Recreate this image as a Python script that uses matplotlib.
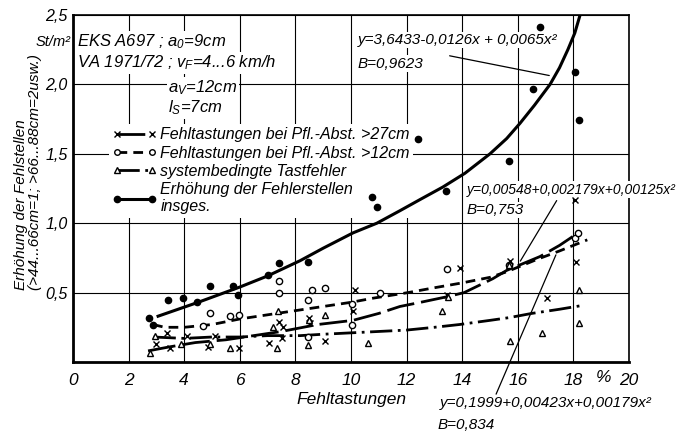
import numpy as np
import matplotlib
matplotlib.use('Agg')
import matplotlib.pyplot as plt
from matplotlib.lines import Line2D

plt.rcParams['font.family'] = ['Liberation Sans', 'DejaVu Sans']
plt.rcParams['font.style'] = 'italic'
plt.rcParams['mathtext.fontset'] = 'custom'
plt.rcParams['mathtext.it'] = 'Liberation Sans:italic'
plt.rcParams['mathtext.rm'] = 'Liberation Sans:italic'

# Erhoehung der Fehlerstellen insges. (gefuellte Punkte)
x_ges = [2.73, 2.88, 3.42, 3.95, 4.45, 4.93, 5.76, 5.93, 7.0, 7.42, 8.46,
         10.76, 10.94, 12.41, 13.42, 15.68, 16.55, 16.8, 18.06, 18.2]
y_ges = [0.32, 0.27, 0.45, 0.46, 0.43, 0.55, 0.55, 0.48, 0.63, 0.71, 0.72,
         1.19, 1.12, 1.61, 1.23, 1.45, 1.97, 2.41, 2.09, 1.74]

# Fehltastungen bei Pfl.-Abst. > 12cm (offene Kreise)
x_12 = [4.68, 4.93, 5.65, 5.97, 7.41, 7.41, 8.45, 8.6, 9.06, 8.45, 10.03,
        10.03, 11.04, 13.45, 15.7, 18.06, 18.17]
y_12 = [0.26, 0.35, 0.33, 0.34, 0.58, 0.50, 0.45, 0.52, 0.53, 0.18, 0.42,
        0.27, 0.50, 0.67, 0.70, 0.89, 0.93]

# Fehltastungen bei Pfl.-Abst. > 27cm (Kreuze)
x_27 = [2.98, 3.38, 3.5, 4.1, 4.86, 5.1, 5.97, 7.05, 7.41, 7.5, 7.55, 8.5,
        8.53, 9.06, 10.07, 10.14, 13.45, 13.92, 15.72, 17.05, 18.06, 18.1]
y_27 = [0.13, 0.21, 0.10, 0.19, 0.11, 0.19, 0.10, 0.14, 0.29, 0.17, 0.25, 0.32,
        0.28, 0.15, 0.37, 0.52, 0.48, 0.68, 0.73, 0.46, 1.17, 0.72]

# systembedingte Tastfehler (Dreiecke)
x_sys = [2.77, 2.95, 3.9, 4.93, 5.65, 7.2, 7.34, 7.37, 8.45, 8.5, 9.06, 10.6,
         13.27, 13.5, 15.68, 15.72, 16.87, 18.2, 18.2]
y_sys = [0.065, 0.19, 0.13, 0.13, 0.10, 0.25, 0.10, 0.37, 0.12, 0.30, 0.34, 0.14,
         0.37, 0.47, 0.70, 0.15, 0.21, 0.52, 0.28]

# Ausgleichskurven
fx_ges = [3.06, 4.5, 6.0, 7.0, 8.17, 9.0, 10.07, 10.93, 11.76, 12.48, 13.3, 14.1,
          15.0, 15.6, 16.08, 16.6, 17.16, 17.5, 17.8, 18.05, 18.24]
fy_ges = [0.33, 0.43, 0.54, 0.62, 0.73, 0.82, 0.93, 1.00, 1.09, 1.17, 1.26, 1.36,
          1.50, 1.61, 1.72, 1.85, 2.00, 2.12, 2.25, 2.37, 2.50]
fx_12 = [2.88, 3.3, 4.0, 5.0, 6.0, 7.0, 8.0, 9.0, 10.0, 10.8, 12.05, 13.0, 14.0,
         15.0, 15.6, 16.7, 17.5, 18.5]
fy_12 = [0.27, 0.25, 0.25, 0.27, 0.31, 0.34, 0.37, 0.40, 0.43, 0.46, 0.50, 0.535, 0.57,
         0.61, 0.65, 0.74, 0.80, 0.88]
fx_27 = [2.7, 3.5, 4.4, 5.5, 6.5, 7.5, 8.8, 10.07, 11.0, 11.76, 12.5, 13.45, 14.07,
         15.1, 15.6, 16.8, 17.5, 18.17]
fy_27 = [0.08, 0.11, 0.14, 0.16, 0.19, 0.22, 0.27, 0.30, 0.35, 0.40, 0.43, 0.47, 0.50,
         0.60, 0.66, 0.76, 0.84, 0.93]
fx_sys = [2.9, 4.0, 5.0, 6.0, 7.0, 8.17, 9.0, 10.0, 11.0, 12.0, 13.0, 13.9, 15.0,
          15.7, 16.5, 17.5, 18.4]
fy_sys = [0.18, 0.17, 0.18, 0.18, 0.19, 0.19, 0.20, 0.21, 0.22, 0.23, 0.25, 0.27, 0.30,
          0.32, 0.35, 0.38, 0.41]

xticks = [0, 2, 4, 6, 8, 10, 12, 14, 16, 18, 20]
xtick_labels = ['0', '2', '4', '6', '8', '10', '12', '14', '16', '18', '20']
yticks = [0.5, 1.0, 1.5, 2.0, 2.5]
ytick_labels = ['0,5', '1,0', '1,5', '2,0', '2,5']

legend_labels = ['Fehltastungen bei Pfl.-Abst. >27cm',
                 'Fehltastungen bei Pfl.-Abst. >12cm',
                 'systembedingte Tastfehler',
                 'Erhöhung der Fehlerstellen\ninsges.']

fig = plt.figure(figsize=(6.79, 4.36), dpi=100)
ax = fig.add_axes([73/679, 1 - 362/436, 556/679, 347/436])
ax.set_xlim(0, 20)
ax.set_ylim(0, 2.5)
ax.set_axisbelow(True)
ax.grid(True, color='black', lw=0.8)

ls_27 = (0, (10, 2.5))
ls_12 = (0, (3.5, 2.2))
ls_sys = (0, (8, 2, 1, 2))

ax.plot(fx_ges, fy_ges, color='black', lw=2.2, zorder=3)
ax.plot(fx_12, fy_12, color='black', lw=2, linestyle=ls_12, zorder=3)
ax.plot(fx_27, fy_27, color='black', lw=2, linestyle=ls_27, zorder=3)
ax.plot(fx_sys, fy_sys, color='black', lw=2, linestyle=ls_sys, zorder=3)

ax.plot(x_ges, y_ges, 'o', color='black', ms=4.5, zorder=4)
ax.plot(x_12, y_12, 'o', mfc='white', mec='black', mew=1, ms=4.5, zorder=4)
ax.plot(x_27, y_27, 'x', color='black', mew=1, ms=4, zorder=4)
ax.plot(x_sys, y_sys, '^', mfc='white', mec='black', mew=1, ms=4, zorder=4)

for s in ['left', 'bottom']:
    ax.spines[s].set_linewidth(2)
for s in ['top', 'right']:
    ax.spines[s].set_linewidth(1.2)

ax.set_xticks(xticks)
ax.set_xticklabels(xtick_labels, fontsize=12.5)
ax.set_yticks(yticks)
ax.set_yticklabels(ytick_labels, fontsize=11.5)
ax.tick_params(length=0, pad=8)
ax.tick_params(axis='y', pad=4)
ax.set_xlabel('Fehltastungen', fontsize=12.5, labelpad=3)
ax.text(19.1, -0.115, '%', fontsize=12.5, ha='center', va='center')
ax.text(-0.08, 2.305, 'St/m²', fontsize=10.5, ha='right', va='center')

fig.text(21/679, 1 - 290/436, 'Erhöhung der Fehlstellen', fontsize=11,
         rotation=90, rotation_mode='anchor', ha='left', va='center')
fig.text(35/679, 1 - 290/436, '(>44...66cm=1; >66...88cm=2usw.)', fontsize=11,
         rotation=90, rotation_mode='anchor', ha='left', va='center')

wb = dict(facecolor='white', edgecolor='none', pad=1)
ax.text(0.15, 2.305, 'EKS A697 ; a$_0$=9cm', fontsize=12, va='center', bbox=wb)
ax.text(0.15, 2.154, 'VA 1971/72 ; v$_F$=4...6 km/h', fontsize=12, va='center', bbox=wb)
ax.text(3.42, 1.974, 'a$_V$=12cm', fontsize=12, va='center', bbox=wb)
ax.text(3.42, 1.83, 'l$_S$=7cm', fontsize=12, va='center', bbox=wb)

handles = [Line2D([], [], color='black', lw=2, linestyle=ls_27, marker='x', ms=4),
           Line2D([], [], color='black', lw=2, linestyle=ls_12, marker='o', mfc='white', ms=4),
           Line2D([], [], color='black', lw=2, linestyle=ls_sys, marker='^', mfc='white', ms=4),
           Line2D([], [], color='black', lw=2.2, marker='o', ms=4.5)]
leg = ax.legend(handles, legend_labels, loc='upper left', bbox_to_anchor=(0.065, 0.685),
                fontsize=11.5, frameon=True, facecolor='white', edgecolor='none', framealpha=1,
                numpoints=2, handlelength=2.8, handletextpad=0.2, labelspacing=0.2,
                borderpad=0.2, borderaxespad=0)
leg.set_zorder(2.5)

# Gleichungen mit Hinweislinien
ax.text(10.25, 2.32, 'y=3,6433-0,0126x + 0,0065x²', fontsize=11, va='center', bbox=wb)
ax.text(10.25, 2.15, 'B=0,9623', fontsize=11, va='center', bbox=wb)
ax.annotate('', xy=(17.23, 2.06), xytext=(13.45, 2.21),
            arrowprops=dict(arrowstyle='-', color='black', lw=0.9))

ax.text(14.15, 1.24, 'y=0,00548+0,002179x+0,00125x²', fontsize=10, va='center',
        bbox=wb, clip_on=False)
ax.text(14.15, 1.095, 'B=0,753', fontsize=11, va='center', bbox=wb)
ax.annotate('', xy=(16.04, 0.71), xytext=(17.45, 1.18),
            arrowprops=dict(arrowstyle='-', color='black', lw=0.9))

ax.text(13.2, -0.295, 'y=0,1999+0,00423x+0,00179x²', fontsize=11, va='center',
        clip_on=False)
ax.text(13.1, -0.454, 'B=0,834', fontsize=11, va='center', clip_on=False)
ax.annotate('', xy=(17.41, 0.79), xytext=(15.18, -0.25), annotation_clip=False,
            arrowprops=dict(arrowstyle='-', color='black', lw=0.9))

fig.savefig('out.png', dpi=100)
